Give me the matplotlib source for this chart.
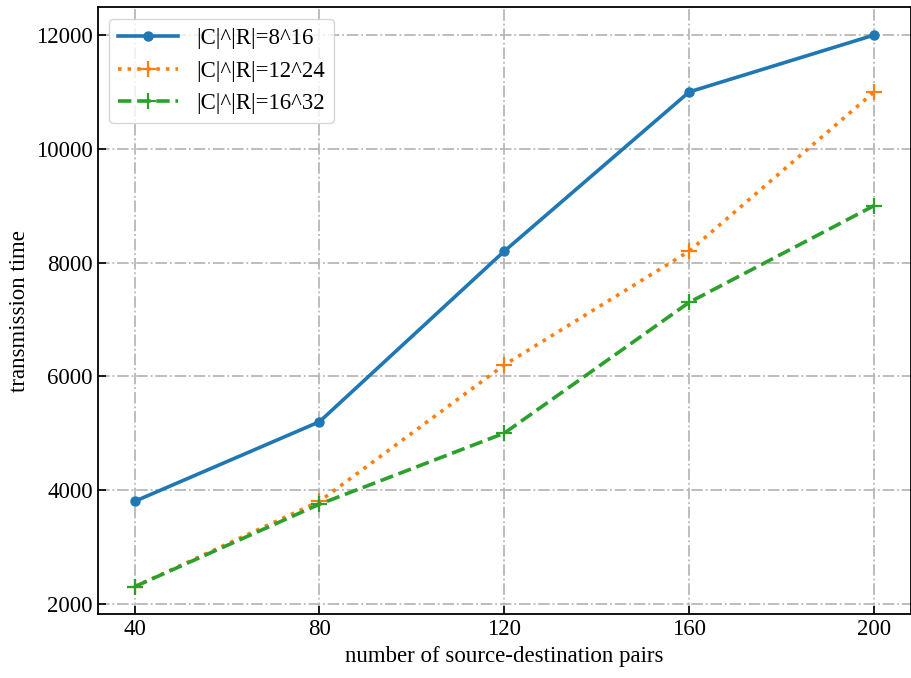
import matplotlib
matplotlib.use("Agg")
import matplotlib.pyplot as plt

x = [40, 80, 120, 160, 200]
y1 = [3800, 5200, 8200, 11000, 12000]
y2 = [2300, 3800, 6200, 8200, 11000]
y3 = [2300, 3750, 5000, 7300, 9000]
labels = ["|C|^|R|=8^16", "|C|^|R|=12^24", "|C|^|R|=16^32"]

plt.rcParams['font.family'] = ['Liberation Serif', 'DejaVu Serif']
plt.rcParams['mathtext.fontset'] = 'stix'

fig = plt.figure(figsize=(9.12, 6.78), dpi=100)
ax = fig.add_axes([0.107, 0.094, 0.892, 0.895])

ax.plot(x, y1, '-o', color='#1f77b4', lw=2.6, ms=6.5, label=labels[0])
ax.plot(x, y2, ':+', color='#ff7f0e', lw=2.6, ms=11, mew=1.6, label=labels[1])
ax.plot(x, y3, '--+', color='#2ca02c', lw=2.6, ms=11, mew=1.6, label=labels[2])

ax.set_xticks(x)
ax.set_yticks([2000, 4000, 6000, 8000, 10000, 12000])
ax.tick_params(direction='in', labelsize=16.5, length=6, width=1.2)
ax.grid(True, linestyle='-.', color='#b8b8b8', lw=1.3)
for s in ax.spines.values():
    s.set_linewidth(1.3)
ax.set_xlabel('number of source-destination pairs', fontsize=16.5)
ax.set_ylabel('transmission time', fontsize=16.5)
ax.legend(loc='upper left', fontsize=16.5, handlelength=2.6)

fig.savefig('out.png', dpi=100)
